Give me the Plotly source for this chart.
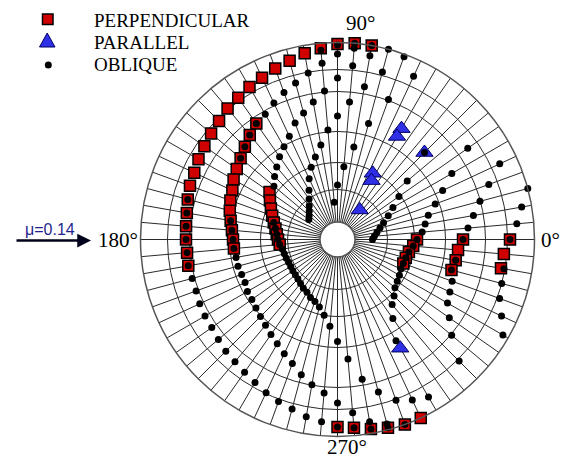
import plotly.graph_objects as go

# ---------------- data (theta in degrees, r in chart radial units, outer ring = 197) ----------------
# PERPENDICULAR (red squares)
perp_outer_theta = [80, 85, 90, 95, 100, 105, 110, 115, 120, 125, 130, 135, 140, 145, 150,
                    155, 160, 165, 170, 175, 180, 185, 190, 270, 275, 280, 285, 290, 295]
perp_outer_r = [197, 197, 195.5, 192, 189, 185, 182, 178.5, 176, 173, 171, 167.5, 165, 162.5, 160.5,
                158, 157, 155, 153, 152, 151.5, 151, 151.5, 187.5, 189, 192.5, 195, 197, 197]
perp_mid_theta = [125, 130, 135, 140, 145, 150, 155, 160, 165, 170, 175, 180, 185]
perp_mid_r = [141.5, 136.5, 131, 126.5, 123, 120, 116, 114, 111.5, 108.5, 106, 104.5, 104]
perp_inner_theta = [145, 150, 155, 160, 165, 170, 175, 180, 185]
perp_inner_r = [83, 78, 73.5, 69.5, 66, 63, 61, 59.5, 58]
perp_right_theta = [0, 355, 350, 0, 355, 350, 345, 0, 355, 350, 345, 340]
perp_right_r = [172.5, 167, 166, 125.5, 121, 120, 118, 79.5, 76, 72.5, 70.7, 70]

# PARALLEL (blue triangles)
par_theta = [60, 60, 45, 62, 60, 53, 300]
par_r = [128, 119, 123, 75, 68, 37, 125.5]

# OBLIQUE (black dots)
obl_c1_theta = [65, 70, 75, 80, 85, 90, 95,
                165, 170, 175, 180, 185, 190, 195, 200, 205, 210, 215, 220, 225, 230, 235,
                240, 245, 250, 255, 260, 265, 270, 275, 280, 285, 290]
obl_c1_r = [180, 194.5, 197, 197, 197, 194.5, 190,
            155, 153, 152, 151.5, 151, 151.5, 150.5, 150.5, 152, 153, 153.5, 155.5, 158, 159.5, 162,
            165, 169, 172.5, 175.5, 180, 183, 187.5, 189, 192.5, 195, 197]
obl_c2_theta = [85, 90, 95, 100, 105, 110, 115, 120, 125, 130, 135, 140,
                170, 175, 180, 185, 190, 195, 200, 205, 210, 215, 220, 225, 230, 235,
                240, 245, 250, 255, 260, 265, 270, 275, 280, 285]
obl_c2_r = [192, 185.5, 177, 169, 162, 156.5, 150.5, 144.5, 141.5, 136.5, 131, 126.5,
            108.5, 106, 104.5, 104, 103, 103, 102, 102, 104, 104.5, 106.5, 109, 112, 116,
            120.5, 126, 132, 140, 147.5, 154, 163.5, 174, 185, 191]
obl_c3_theta = [80, 85, 90, 95, 100, 105, 110, 115, 120, 125, 130, 135, 140,
                165, 170, 175, 180, 185, 190, 195, 200, 205, 210, 215, 220, 225, 230, 235,
                240, 245, 250, 255, 260, 265, 270, 275, 280, 285, 290, 295, 300]
obl_c3_r = [186.5, 174.5, 161.5, 149, 139.5, 131, 124, 114, 107, 101, 94.5, 89, 83,
            66, 63, 61, 59.5, 58, 56, 55, 54.5, 54, 54, 54.5, 55, 56, 57.5, 59.5,
            61, 64, 66, 70, 77, 87, 102, 120, 142, 158, 171, 177, 182]
obl_c4_theta = [75, 80, 85, 90, 95, 100, 105, 110, 115, 120, 125, 130, 135, 140, 145]
obl_c4_r = [173.5, 155, 138, 123.5, 110, 96, 85.5, 77, 67, 57, 49.5, 44, 40, 37, 35]
obl_c5_theta = [70, 75, 80, 85, 90, 95]
obl_c5_r = [149, 120, 94, 73, 54.5, 37.5]
obl_r1_theta = [45, 40, 35, 30, 25, 20, 15, 10, 5, 0]
obl_r1_r = [123, 91, 75, 64, 56, 49, 44, 40, 37, 35]
obl_r2_theta = [35, 30, 25, 20, 15, 10, 5, 0, 355, 350, 345, 340, 335, 330, 325, 320, 315, 310,
                305, 300]
obl_r2_r = [159, 132, 116, 104, 94, 89, 85, 79.5, 76, 72.5, 70.7, 70, 70, 71.5, 73, 75, 80, 85,
            96.5, 117]
obl_r3_theta = [25, 20, 15, 10, 5, 0, 350, 345, 340, 335, 330, 325, 320, 315]
obl_r3_r = [179, 161, 147.5, 138, 131, 125.5, 120, 118, 122, 124, 127, 136.5, 149, 172]
obl_r4_theta = [15, 10, 5, 0, 350, 345, 340, 335, 330]
obl_r4_r = [197, 187, 180, 172.5, 169, 170, 172.5, 181, 191]

angular_labels = ["0°", "90°", "180°", "270°"]
series_names = ["PERPENDICULAR", "PARALLEL", "OBLIQUE"]
flow_label = "μ=0.14"

# ---------------- assemble ----------------
perp_theta = perp_outer_theta + perp_mid_theta + perp_inner_theta + perp_right_theta
perp_r = perp_outer_r + perp_mid_r + perp_inner_r + perp_right_r
obl_theta = (obl_c1_theta + obl_c2_theta + obl_c3_theta + obl_c4_theta + obl_c5_theta
             + obl_r1_theta + obl_r2_theta + obl_r3_theta + obl_r4_theta)
obl_r = (obl_c1_r + obl_c2_r + obl_c3_r + obl_c4_r + obl_c5_r
         + obl_r1_r + obl_r2_r + obl_r3_r + obl_r4_r)

# page body has an 8px margin, so the figure is 8px smaller and positions are offset
OFF = 8
W, H = 569 - OFF, 461 - OFF
RED = "#d00000"
BLUE = "#2f2fe6"

fig = go.Figure()
fig.add_trace(go.Scatterpolar(theta=perp_theta, r=perp_r, mode="markers", name=series_names[0],
                              cliponaxis=False, showlegend=False,
                              marker=dict(symbol="square", size=11, color=RED,
                                          line=dict(color="black", width=1.5))))
fig.add_trace(go.Scatterpolar(theta=par_theta, r=par_r, mode="markers", name=series_names[1],
                              cliponaxis=False, showlegend=False,
                              marker=dict(symbol="triangle-up", size=15, color=BLUE,
                                          line=dict(color="#000066", width=1))))
fig.add_trace(go.Scatterpolar(theta=obl_theta, r=obl_r, mode="markers", name=series_names[2],
                              cliponaxis=False, showlegend=False,
                              marker=dict(symbol="circle", size=7, color="black")))

cx, cy, R = 337.5, 239.5, 197.0
hole_px = 17.5

def px(x):
    return (x - OFF) / W

def py(y):
    return 1 - (y - OFF) / H

fig.update_layout(
    width=W, height=H, autosize=False,
    margin=dict(l=0, r=0, t=0, b=0),
    paper_bgcolor="white", plot_bgcolor="white",
    showlegend=False,
    polar=dict(
        domain=dict(x=[px(cx - R), px(cx + R)], y=[py(cy + R), py(cy - R)]),
        hole=hole_px / R,
        bgcolor="white",
        radialaxis=dict(range=[hole_px, R], tickvals=[50, 77, 108, 148, 170],
                        showticklabels=False, ticks="", showline=False,
                        gridcolor="#2a2a2a", gridwidth=1),
        angularaxis=dict(direction="counterclockwise", rotation=0,
                         tickvals=list(range(0, 360, 5)), showticklabels=False, ticks="",
                         gridcolor="#2a2a2a", gridwidth=1,
                         showline=True, linecolor="#555555", linewidth=1.5),
    ),
)

# angular labels
lab_font = dict(family="Liberation Serif", size=21, color="black")
for txt, (x, y) in zip(angular_labels, [(550, 240), (360, 23), (118, 240), (347, 447)]):
    fig.add_annotation(x=px(x), y=py(y), xref="paper", yref="paper", text=txt,
                       showarrow=False, font=lab_font, xanchor="center", yanchor="middle")

# manual legend
leg_font = dict(family="Liberation Serif", size=19, color="black")
for name, y in zip(series_names, [20, 42.5, 65]):
    fig.add_annotation(x=px(92), y=py(y), xref="paper", yref="paper", text=name,
                       showarrow=False, font=leg_font, xanchor="left", yanchor="middle")
fig.add_shape(type="rect", xref="paper", yref="paper",
              x0=px(42.5), x1=px(53), y0=py(24.5), y1=py(14),
              fillcolor=RED, line=dict(color="black", width=1.5))
fig.add_shape(type="path", xref="paper", yref="paper",
              path=f"M {px(39.5)},{py(47)} L {px(55)},{py(47)} L {px(47.2)},{py(33)} Z",
              fillcolor=BLUE, line=dict(color="#000066", width=1))
fig.add_shape(type="circle", xref="paper", yref="paper",
              x0=px(44.8), x1=px(51.8), y0=py(68.5), y1=py(61.5),
              fillcolor="black", line=dict(color="black", width=0))

# flow arrow + friction coefficient
fig.add_annotation(x=px(91), y=py(240.5), ax=-76, ay=0, xref="paper", yref="paper",
                   axref="pixel", ayref="pixel", text="", showarrow=True,
                   arrowhead=2, arrowsize=1.1, arrowwidth=2.5, arrowcolor="#00001a")
fig.add_annotation(x=px(50), y=py(229), xref="paper", yref="paper", text=flow_label,
                   showarrow=False, xanchor="center", yanchor="middle",
                   font=dict(family="Liberation Sans", size=16, color="#1f1f8f"))

fig.write_html("out.html")
